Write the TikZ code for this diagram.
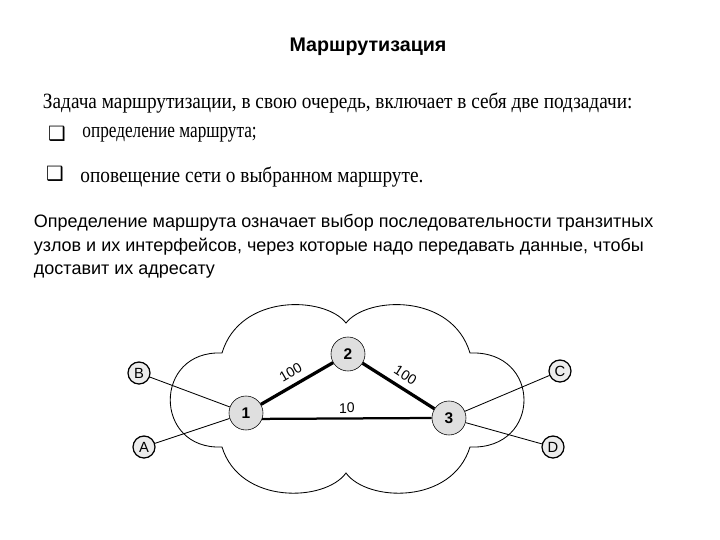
\documentclass[tikz,border=0pt]{standalone}
\usepackage{fontspec}
\setmainfont{Liberation Serif}
\setsansfont{Liberation Sans}
\newfontfamily\symfont{DejaVu Sans}
\newfontfamily\scanfont{Liberation Serif}[FakeStretch=0.885]
\newfontfamily\narrowscan{Liberation Serif}[FakeStretch=0.79]

\tikzset{
    router/.style={draw, circle, fill=gray!25, inner sep=0pt, minimum size=8.5mm,
        font=\sffamily\bfseries\fontsize{11}{11}\selectfont},
    host/.style={draw, circle, fill=gray!15, inner sep=0pt, minimum size=5.5mm, line width=0.9pt,
        font=\sffamily\fontsize{10.5}{10.5}\selectfont},
    heavy/.style={line width=2.3pt},
    medium/.style={line width=1.6pt},
    thin line/.style={line width=0.6pt},
    weight/.style={font=\sffamily\fontsize{10}{10}\selectfont, above, sloped, inner sep=4.5pt}
}

\begin{document}
\begin{tikzpicture}[x=0.25cm, y=-0.25cm]
    \useasboundingbox (0,0) rectangle (72,54);

    % header and text
    \node[font=\sffamily\bfseries\fontsize{14}{16}\selectfont] (title) at (36.8,4.7) {Маршрутизация};
    \node[anchor=west, font=\scanfont\fontsize{15.5}{17}\selectfont] (task) at (3.8,10.3)
        {Задача маршрутизации, в свою очередь, включает в себя две подзадачи:};
    \foreach \y/\yt/\xb/\xt/\fnt/\desc in {13.4/13.5/5.7/7.75/\narrowscan/определение маршрута;,
                                          17.4/17.7/5.5/7.55/\scanfont/оповещение сети о выбранном маршруте.} {
        \node[font=\symfont\fontsize{14}{14}\selectfont] at (\xb,\y) {❑};
        \node[anchor=west, font=\fnt\fontsize{15.5}{17}\selectfont] at (\xt,\yt) {\desc};
    }
    \node[anchor=north west, align=left, font=\sffamily\fontsize{12.8}{17}\selectfont] (def) at (2.9,20.9)
        {Определение маршрута означает выбор последовательности транзитных\\
         узлов и их интерфейсов, через которые надо передавать данные, чтобы\\
         доставит их адресату};

    % cloud
    \draw[thin line] (34.6,32.3)
        .. controls (32.5,29.6) and (24.0,29.3) .. (22.2,35.3)
        .. controls (15.3,35.0) and (15.3,45.0) .. (22.2,44.7)
        .. controls (24.0,50.5) and (32.5,50.2) .. (34.6,47.3)
        .. controls (36.7,50.2) and (45.2,50.5) .. (47.0,44.7)
        .. controls (54.2,45.0) and (54.2,35.0) .. (47.0,35.3)
        .. controls (45.2,29.3) and (36.7,29.6) .. cycle;

    % routers and hosts
    \node[router] (n1) at (24.6,41.3) {1};
    \node[router] (n2) at (34.8,35.4) {2};
    \node[router] (n3) at (44.9,41.8) {3};
    \foreach \name/\x/\y in {B/13.9/37.3, A/14.4/44.7, C/56.0/37.1, D/55.3/44.7} {
        \node[host] (h\name) at (\x,\y) {\name};
    }

    % links
    \draw[heavy] (n1) -- node[weight] {100} (n2);
    \draw[heavy] (n2) -- node[weight] {100} (n3);
    \draw[medium] (n1.-20) -- node[weight, inner sep=3pt] {10} (n3.west);
    \draw[thin line] (hB) -- (n1);
    \draw[thin line] (hA) -- (n1);
    \draw[thin line] (hC) -- (n3);
    \draw[thin line] (hD) -- (n3);
\end{tikzpicture}
\end{document}
